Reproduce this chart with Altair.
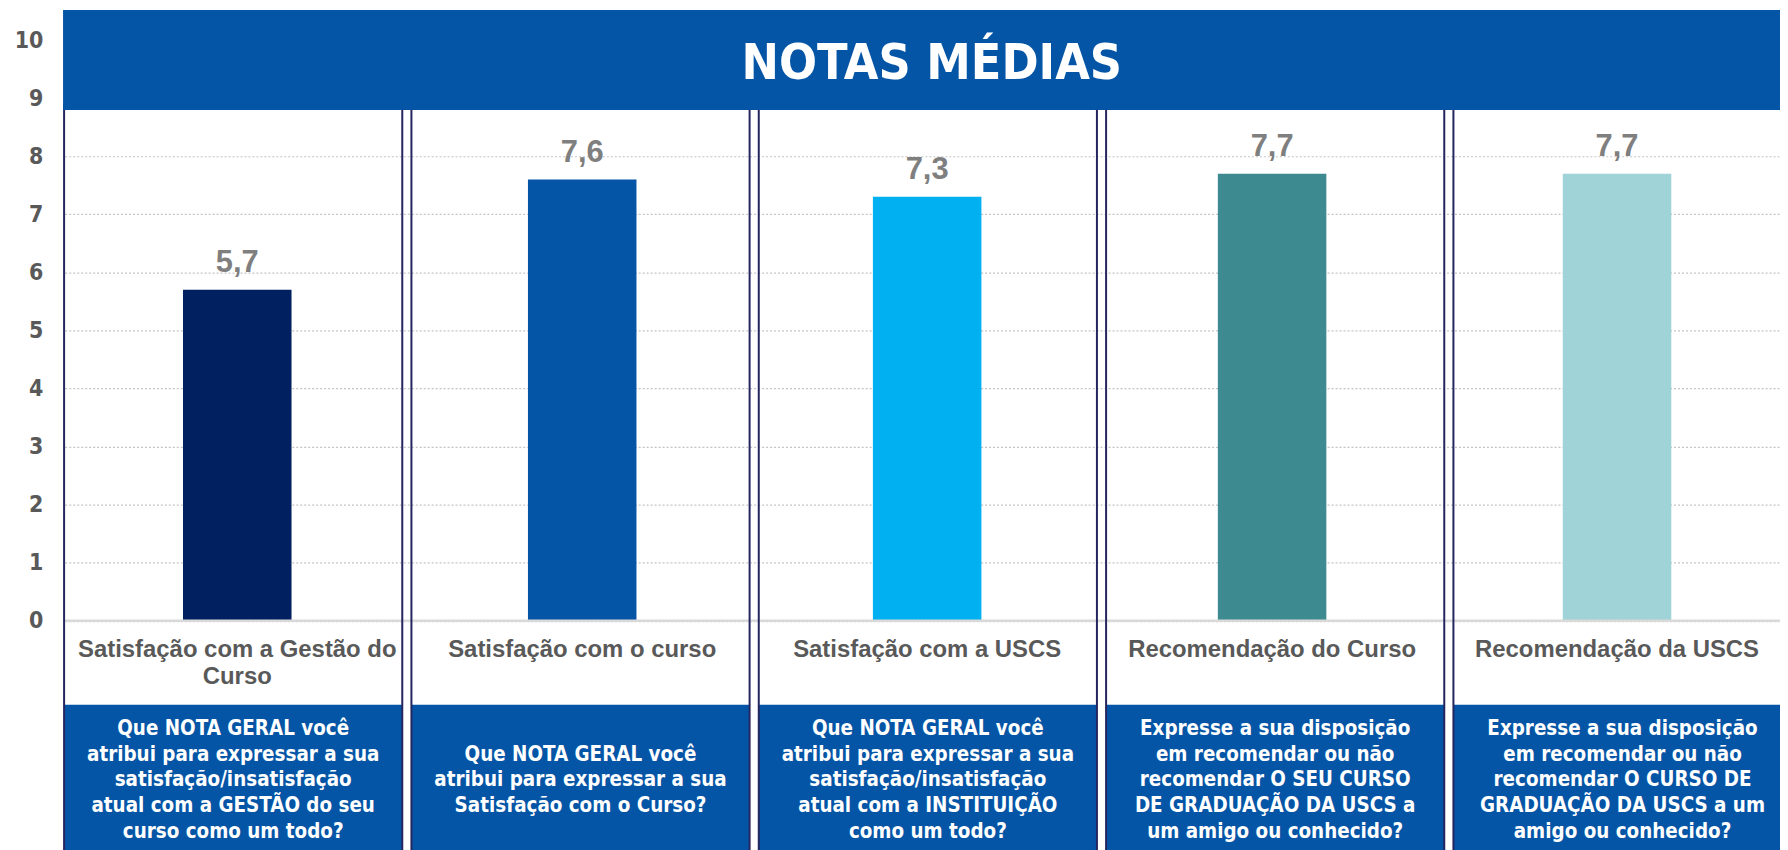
import altair as alt
import pandas as pd

# ---------------- data ----------------
categorias = [
    "Satisfação com a Gestão do Curso",
    "Satisfação com o curso",
    "Satisfação com a USCS",
    "Recomendação do Curso",
    "Recomendação da USCS",
]
rotulos = [
    "Satisfação com a Gestão do\nCurso",
    "Satisfação com o curso",
    "Satisfação com a USCS",
    "Recomendação do Curso",
    "Recomendação da USCS",
]
notas = [5.7, 7.6, 7.3, 7.7, 7.7]
perguntas = [
    "Que NOTA GERAL você\natribui para expressar a sua\nsatisfação/insatisfação\natual com a GESTÃO do seu\ncurso como um todo?",
    "\nQue NOTA GERAL você\natribui para expressar a sua\nSatisfação com o Curso?\n",
    "Que NOTA GERAL você\natribui para expressar a sua\nsatisfação/insatisfação\natual com a INSTITUIÇÃO\ncomo um todo?",
    "Expresse a sua disposição\nem recomendar ou não\nrecomendar O SEU CURSO\nDE GRADUAÇÃO DA USCS a\num amigo ou conhecido?",
    "Expresse a sua disposição\nem recomendar ou não\nrecomendar O CURSO DE\nGRADUAÇÃO DA USCS a um\namigo ou conhecido?",
]
cores = ["#002060", "#0555a6", "#00b0f0", "#3d8b91", "#9fd3d7"]
ticks_y = list(range(11))
titulo = ["NOTAS MÉDIAS"]

df = pd.DataFrame({"categoria": categorias, "rotulo": rotulos,
                   "nota": notas, "pergunta": perguntas})
one = pd.DataFrame({"t": titulo})

# ---------------- layout ----------------
W, H = 1724, 842
AZUL = "#0555a6"
BORDA = "#25255f"

x_bar = alt.X("categoria:N", axis=None,
              scale=alt.Scale(domain=categorias, range=[1.05, 1733.55],
                              paddingInner=0, paddingOuter=0))
x_pan = alt.X("categoria:N", axis=None,
              scale=alt.Scale(domain=categorias, range=[-4.25, 1740.25],
                              paddingInner=0, paddingOuter=0))
y_scale = alt.Scale(domain=[0, 10], range=[613.7, 30.3])
y_enc = alt.Y("nota:Q", title=None, scale=y_scale,
              axis=alt.Axis(values=ticks_y, format="d"))

base = alt.Chart(df)

boxes = base.mark_bar(width=339.7, color=AZUL).encode(
    x=x_pan, y=alt.value(698), y2=alt.value(880))

bars = base.mark_bar(width=109).encode(
    x=x_bar, y=y_enc,
    color=alt.Color("categoria:N", legend=None,
                    scale=alt.Scale(domain=categorias, range=cores)))

values = base.transform_calculate(
    rot="replace(format(datum.nota, '.1f'), '.', ',')"
).mark_text(font="Liberation Sans", fontWeight="bold", fontSize=31,
            color="#7f7f7f", baseline="alphabetic", dy=-18).encode(
    x=x_bar, y=y_enc, text="rot:N")

baseline = alt.Chart(one).mark_rule(color="#d9d9d9", strokeWidth=2.5).encode(
    y=alt.datum(0), x=alt.value(0), x2=alt.value(W))

cats = base.mark_text(font="Liberation Sans", fontWeight="bold", fontSize=24,
                      color="#595959", baseline="top", lineBreak="\n",
                      lineHeight=27).encode(
    x=x_bar, y=alt.value(631.3), text="rotulo:N")

borders = base.mark_bar(width=339.7, fillOpacity=0, stroke=BORDA,
                        strokeWidth=2).encode(
    x=x_pan, y=alt.value(95), y2=alt.value(880))

questions = base.mark_text(font="DejaVu Sans Condensed", fontWeight="bold",
                           fontSize=20.5, color="white", baseline="top",
                           lineBreak="\n", lineHeight=25.7).encode(
    x=x_pan, y=alt.value(712.7), text="pergunta:N")

header = alt.Chart(one).mark_rect(color=AZUL).encode(
    x=alt.value(-0.7), x2=alt.value(W), y=alt.value(0), y2=alt.value(100.5))

title = alt.Chart(one).mark_text(font="DejaVu Sans Condensed", fontWeight="bold",
                                 fontSize=50, color="white", align="center",
                                 baseline="alphabetic").encode(
    x=alt.value(872), y=alt.value(69.5), text="t:N")

chart = alt.layer(
    boxes, bars, values, baseline, cats, borders, questions, header, title
).resolve_scale(x="independent").properties(
    width=W, height=H,
    padding={"left": 56, "top": 0, "right": 0, "bottom": 0},
    autosize=alt.AutoSizeParams(type="none"),
).configure_view(strokeWidth=0).configure_axisY(
    labelFont="DejaVu Sans Condensed", labelFontWeight="bold", labelFontSize=23,
    labelColor="#595959", ticks=False, tickSize=0, domain=False,
    labelPadding=21, grid=True, gridColor="#c4c4c4", gridDash=[2, 2],
    gridWidth=1.2, labelBaseline="middle",
)

chart.save("out.html", embed_options={"renderer": "svg", "actions": False})
